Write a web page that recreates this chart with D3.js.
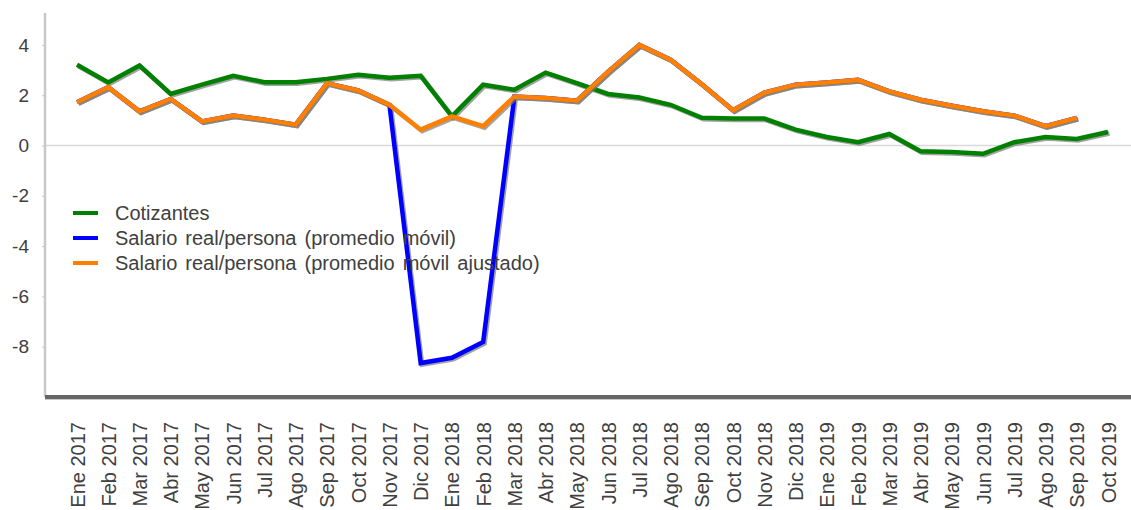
<!DOCTYPE html>
<html>
<head>
<meta charset="utf-8">
<script src="https://cdn.jsdelivr.net/npm/d3@7"></script>
<style>
  body { margin: 0; background: #fff; }
  svg { display: block; font-family: "Liberation Sans", Arial, sans-serif; }
</style>
</head>
<body>
<svg id="chart"></svg>
<script>
const months = [
  "Ene 2017", "Feb 2017", "Mar 2017", "Abr 2017", "May 2017", "Jun 2017",
  "Jul 2017", "Ago 2017", "Sep 2017", "Oct 2017", "Nov 2017", "Dic 2017",
  "Ene 2018", "Feb 2018", "Mar 2018", "Abr 2018", "May 2018", "Jun 2018",
  "Jul 2018", "Ago 2018", "Sep 2018", "Oct 2018", "Nov 2018", "Dic 2018",
  "Ene 2019", "Feb 2019", "Mar 2019", "Abr 2019", "May 2019", "Jun 2019",
  "Jul 2019", "Ago 2019", "Sep 2019", "Oct 2019"
];

const cotizantes = [
  3.21, 2.51, 3.18, 2.05, 2.42, 2.77, 2.52, 2.52, 2.65, 2.81, 2.70, 2.77,
  1.16, 2.42, 2.22, 2.90, 2.48, 2.05, 1.91, 1.62, 1.10, 1.07, 1.07, 0.63,
  0.34, 0.13, 0.46, -0.23, -0.26, -0.33, 0.13, 0.34, 0.26, 0.54
];

// promedio movil (sin ajustar) - null where no data
const salarioMovil = [
  1.72, 2.32, 1.36, 1.85, 0.96, 1.19, 1.03, 0.83, 2.48, 2.19, 1.62, -8.65,
  -8.44, -7.81, 1.95, 1.89, 1.78, 2.94, 4.00, 3.41, 2.44, 1.40, 2.10, 2.42,
  2.51, 2.61, 2.15, 1.82, 1.58, 1.36, 1.19, 0.77, 1.10, null
];

const salarioAjustado = [
  1.72, 2.32, 1.36, 1.85, 0.96, 1.19, 1.03, 0.83, 2.48, 2.19, 1.62, 0.63,
  1.16, 0.77, 1.95, 1.89, 1.78, 2.94, 4.00, 3.41, 2.44, 1.40, 2.10, 2.42,
  2.51, 2.61, 2.15, 1.82, 1.58, 1.36, 1.19, 0.77, 1.10, null
];

const yTicks = [4, 2, 0, -2, -4, -6, -8];

const seriesNames = [
  "Cotizantes",
  "Salario real/persona (promedio móvil)",
  "Salario real/persona (promedio móvil ajustado)"
];
const seriesColors = ["#008000", "#0000ff", "#ff8000"];

const width = 1131;
const height = 510;
const fontFam = '"Liberation Sans", Arial, sans-serif';

const svg = d3.select("#chart")
  .attr("width", width)
  .attr("height", height);

const x = d3.scalePoint()
  .domain(months)
  .range([77, 1108]);

const y = d3.scaleLinear()
  .domain([-10, 5.27])
  .range([397, 13]);

// zero line
svg.append("line")
  .attr("x1", 45).attr("x2", width)
  .attr("y1", y(0)).attr("y2", y(0))
  .attr("stroke", "#d9d9d9")
  .attr("stroke-width", 1.5);

// left axis (plain hyphen for negatives, like the original)
const yAxis = svg.append("g")
  .attr("transform", "translate(45,0)")
  .call(d3.axisLeft(y).tickValues(yTicks).tickFormat(d => String(d)).tickSize(3).tickPadding(13));
yAxis.attr("font-family", fontFam);
yAxis.select(".domain")
  .attr("d", `M0,${y.range()[1]}V${y.range()[0]}`)
  .attr("stroke", "#c8c8c8")
  .attr("stroke-width", 2.5);
yAxis.selectAll(".tick line").attr("stroke", "#c8c8c8");
yAxis.selectAll(".tick text")
  .attr("fill", "#404040")
  .style("font-size", "19px");

// bottom axis
const xAxis = svg.append("g")
  .attr("transform", `translate(0,${y(-10)})`)
  .call(d3.axisBottom(x).tickSize(0).tickPadding(0));
xAxis.attr("font-family", fontFam);
xAxis.select(".domain").remove();
xAxis.append("line")
  .attr("x1", 45).attr("x2", width)
  .attr("y1", 2).attr("y2", 2)
  .attr("stroke", "#c8c8c8")
  .attr("stroke-width", 2);
xAxis.append("line")
  .attr("x1", 45).attr("x2", width)
  .attr("y1", 0).attr("y2", 0)
  .attr("stroke", "#666")
  .attr("stroke-width", 4);
xAxis.selectAll(".tick text")
  .attr("transform", "rotate(-90)")
  .attr("text-anchor", "end")
  .attr("x", -25)
  .attr("y", 0)
  .attr("dy", "0.35em")
  .attr("fill", "#404040")
  .style("font-size", "20px");

const line = d3.line()
  .defined(d => d != null)
  .x((d, i) => x(months[i]))
  .y(d => y(d));

// draw order: blue underneath, then green, orange on top
const drawOrder = [
  { values: salarioMovil, color: seriesColors[1] },
  { values: cotizantes, color: seriesColors[0] },
  { values: salarioAjustado, color: seriesColors[2] }
];

drawOrder.forEach(s => {
  svg.append("path")
    .datum(s.values)
    .attr("transform", "translate(1.5,1.5)")
    .attr("fill", "none")
    .attr("stroke", "#7a7a7a")
    .attr("stroke-opacity", 0.7)
    .attr("stroke-width", 4.5)
    .attr("d", line);
  svg.append("path")
    .datum(s.values)
    .attr("fill", "none")
    .attr("stroke", s.color)
    .attr("stroke-width", 4.5)
    .attr("d", line);
});

// legend
const legend = svg.append("g").attr("transform", "translate(73,213)");
seriesNames.forEach((name, i) => {
  const row = legend.append("g").attr("transform", `translate(0,${i * 25})`);
  row.append("line")
    .attr("x1", 0).attr("x2", 25)
    .attr("stroke", seriesColors[i])
    .attr("stroke-width", 4);
  row.append("text")
    .attr("x", 42)
    .attr("dy", "0.35em")
    .attr("fill", "#404040")
    .style("font-size", "20px")
    .style("word-spacing", "2.5px")
    .text(name);
});
</script>
</body>
</html>
